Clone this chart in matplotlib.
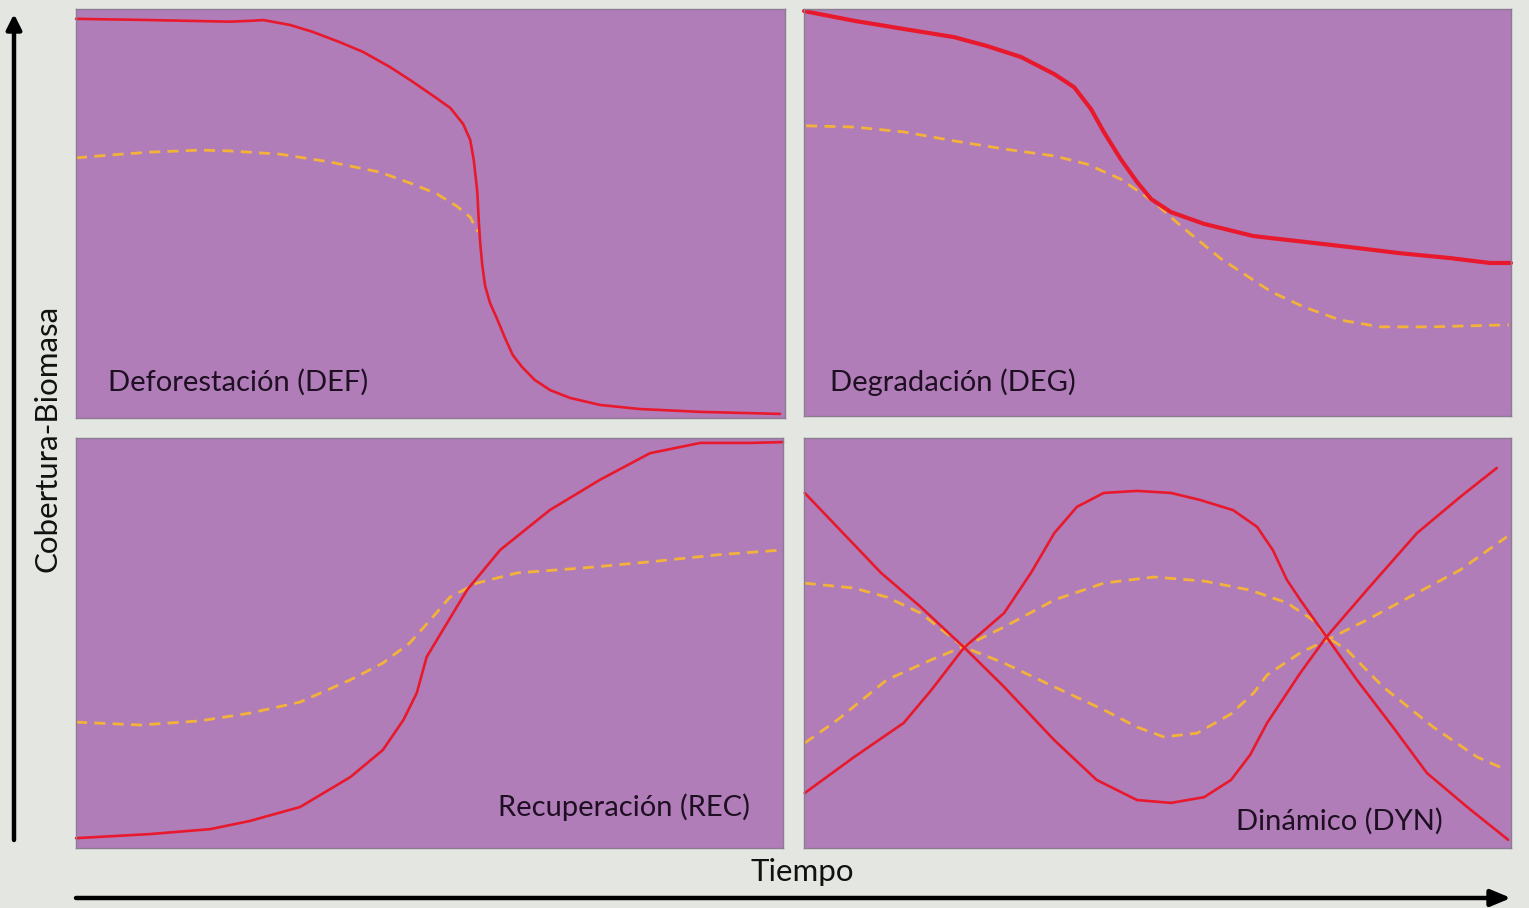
import matplotlib
matplotlib.use("Agg")
import matplotlib.pyplot as plt

# ---- data (panel coordinates: x = time 0-100, y = cover/biomass 0-100) ----
def_red_x = [0, 10.4, 21.7, 24.5, 26.4, 30.2, 33.4, 37.2, 40.5, 44.3, 47.5, 50.6, 52.8, 54.6, 55.6, 56.1, 56.6, 56.8, 57.0, 57.3, 57.7, 58.4, 59.4, 60.5, 61.6, 62.9, 64.7, 66.9, 69.7, 73.9, 79.5, 88.0, 99.3]
def_red_y = [97.6, 97.3, 96.9, 97.1, 97.3, 96.1, 94.4, 91.9, 89.5, 85.8, 82.2, 78.5, 75.8, 71.9, 68.0, 63.1, 55.3, 48.4, 43.0, 37.4, 32.3, 28.1, 24.2, 19.6, 15.4, 12.5, 9.3, 6.8, 4.9, 3.2, 2.2, 1.5, 1.0]
def_yel_x = [0, 4.8, 10.4, 17.5, 21.7, 28.8, 35.8, 42.9, 47.5, 50.9, 53.7, 55.6, 56.7]
def_yel_y = [63.6, 64.3, 65.0, 65.5, 65.3, 64.5, 62.6, 60.1, 57.2, 54.8, 51.8, 49.1, 45.5]

deg_red_x = [0, 7.1, 14.1, 21.2, 25.9, 30.7, 35.4, 38.2, 40.6, 42.4, 44.8, 47.1, 49.1, 51.9, 56.6, 63.6, 70.7, 77.2, 84.3, 91.4, 97.0, 100]
deg_red_y = [99.5, 97.1, 95.1, 93.1, 90.9, 88.2, 84.0, 80.8, 75.4, 69.8, 63.1, 57.5, 53.3, 50.1, 47.2, 44.2, 42.8, 41.5, 40.0, 38.8, 37.6, 37.6]
deg_yel_x = [0.3, 7.1, 14.1, 21.2, 28.3, 35.4, 40.0, 44.8, 49.5, 53.3, 59.0, 66.1, 70.7, 75.8, 81.5, 88.5, 99.7]
deg_yel_y = [71.3, 71.0, 69.8, 67.6, 65.6, 63.9, 61.9, 58.2, 52.6, 46.7, 38.6, 30.5, 26.8, 23.6, 21.9, 21.9, 22.4]

rec_red_x = [0, 10.5, 19.0, 24.6, 31.7, 38.8, 43.4, 46.3, 48.2, 49.6, 51.9, 55.3, 60.0, 67.0, 74.1, 81.2, 88.3, 95.3, 100]
rec_red_y = [2.4, 3.4, 4.6, 6.6, 10.0, 17.3, 23.9, 31.2, 37.8, 46.6, 53.2, 62.9, 72.7, 82.4, 89.8, 96.3, 98.8, 98.8, 99.0]
rec_yel_x = [0, 9.1, 17.5, 24.6, 31.7, 38.8, 43.4, 47.2, 50.1, 52.9, 56.7, 62.4, 71.7, 81.2, 90.7, 100]
rec_yel_y = [30.7, 30.0, 31.0, 32.9, 35.6, 41.0, 45.1, 50.0, 55.6, 61.2, 64.6, 67.1, 68.3, 69.8, 71.5, 72.7]

dyn_redA_x = [0.1, 4.7, 10.9, 16.5, 22.6, 28.3, 35.4, 41.4, 47.1, 51.9, 56.6, 60.4, 63.1, 65.5, 70.2, 73.9, 79.6, 86.7, 92.8, 98.0]
dyn_redA_y = [86.6, 78.3, 67.1, 58.8, 49.0, 39.3, 26.3, 16.6, 11.7, 11.0, 12.4, 16.6, 22.7, 30.5, 42.7, 51.5, 62.9, 76.8, 85.6, 92.7]
dyn_redB_x = [0.1, 7.1, 14.1, 18.0, 22.6, 28.3, 32.1, 35.4, 38.6, 42.4, 47.1, 51.9, 56.0, 60.7, 64.1, 66.3, 68.3, 70.2, 73.9, 78.2, 83.3, 88.1, 93.8, 99.6]
dyn_redB_y = [13.4, 22.2, 30.5, 38.5, 48.8, 57.3, 67.1, 76.8, 83.2, 86.6, 87.1, 86.6, 84.9, 82.4, 78.3, 72.7, 65.4, 60.5, 51.5, 41.0, 29.5, 18.3, 10.0, 2.0]
dyn_yelA_x = [0.1, 7.1, 11.7, 16.5, 22.6, 28.3, 35.4, 42.4, 47.1, 50.9, 55.6, 60.4, 63.6, 65.5, 70.2, 73.9, 79.6, 86.7, 92.8, 99.4]
dyn_yelA_y = [64.6, 63.4, 61.2, 57.3, 49.0, 45.1, 39.3, 33.7, 29.5, 27.1, 28.0, 32.7, 37.8, 42.2, 47.6, 50.7, 55.6, 62.2, 67.8, 75.9]
dyn_yelB_x = [0.1, 4.7, 11.7, 18.0, 23.1, 28.3, 35.4, 42.4, 49.5, 56.6, 63.1, 68.3, 72.0, 73.9, 76.8, 81.9, 89.0, 95.2, 99.4]
dyn_yelB_y = [25.6, 31.2, 41.0, 45.9, 49.5, 53.9, 60.5, 64.6, 66.1, 65.1, 62.9, 59.8, 55.6, 51.5, 48.3, 39.3, 29.5, 22.2, 19.0]

panel_labels = ["Deforestación (DEF)", "Degradación (DEG)", "Recuperación (REC)", "Dinámico (DYN)"]
x_label = "Tiempo"
y_label = "Cobertura-Biomasa"

# ---- style ----
BG = "#e3e6e1"
PURPLE = "#b07db8"
EDGE = "#8c7c92"
RED = "#e8192c"
YEL = "#f3b23a"
TXT = "#1e0f22"
FONT = ["Lato", "DejaVu Sans"]

W, H = 1529, 908
fig = plt.figure(figsize=(W / 100, H / 100), dpi=100)
fig.patch.set_facecolor(BG)

def px_axes(x0, y0, x1, y1):
    return fig.add_axes([x0 / W, 1 - y1 / H, (x1 - x0) / W, (y1 - y0) / H])

boxes = [(76, 9, 785, 418), (804, 9, 1511, 416), (76, 438, 783, 848), (804, 438, 1511, 848)]
axes = [px_axes(*b) for b in boxes]
for ax in axes:
    ax.set_facecolor(PURPLE)
    ax.set_xlim(0, 100)
    ax.set_ylim(0, 100)
    ax.set_xticks([])
    ax.set_yticks([])
    for s in ax.spines.values():
        s.set_color(EDGE)
        s.set_linewidth(1.0)

dash = dict(color=YEL, lw=2.0, ls=(0, (4, 2.6)), dash_capstyle="butt", clip_on=False)
red = dict(color=RED, lw=1.9, clip_on=False, solid_capstyle="round", solid_joinstyle="round")

a = axes[0]
a.plot(def_yel_x, def_yel_y, **dash)
a.plot(def_red_x, def_red_y, **red)

a = axes[1]
a.plot(deg_yel_x, deg_yel_y, **dash)
a.plot(deg_red_x, deg_red_y, color=RED, lw=3.0, clip_on=False, solid_capstyle="round", solid_joinstyle="round")

a = axes[2]
a.plot(rec_yel_x, rec_yel_y, **dash)
a.plot(rec_red_x, rec_red_y, **red)

a = axes[3]
a.plot(dyn_yelA_x, dyn_yelA_y, **dash)
a.plot(dyn_yelB_x, dyn_yelB_y, **dash)
a.plot(dyn_redA_x, dyn_redA_y, **red)
a.plot(dyn_redB_x, dyn_redB_y, **red)

tkw = dict(fontsize=21, color=TXT, family=FONT, va="center")
fig.text(108 / W, 1 - 382 / H, panel_labels[0], ha="left", **tkw)
fig.text(830 / W, 1 - 382 / H, panel_labels[1], ha="left", **tkw)
fig.text(750 / W, 1 - 807 / H, panel_labels[2], ha="right", **tkw)
fig.text(1443 / W, 1 - 821 / H, panel_labels[3], ha="right", **tkw)

fig.text(802 / W, 1 - 872 / H, x_label, ha="center", va="center", fontsize=22.5, color="#111111", family=FONT)
fig.text(48 / W, 1 - 438 / H, y_label, ha="center", va="center", rotation=90, fontsize=22.5, color="#111111", family=FONT)

# axis arrows
fig.add_artist(matplotlib.patches.FancyArrowPatch((14 / W, 1 - 840 / H), (14 / W, 1 - 14 / H),
               transform=fig.transFigure, arrowstyle="-|>,head_length=9,head_width=4.5",
               mutation_scale=1, color="black", lw=3.2, shrinkA=0, shrinkB=0))
fig.add_artist(matplotlib.patches.FancyArrowPatch((76 / W, 1 - 898 / H), (1511 / W, 1 - 898 / H),
               transform=fig.transFigure, arrowstyle="-|>,head_length=12,head_width=5",
               mutation_scale=1, color="black", lw=3.2, shrinkA=0, shrinkB=0))

fig.savefig("out.png", dpi=100, facecolor=BG)
